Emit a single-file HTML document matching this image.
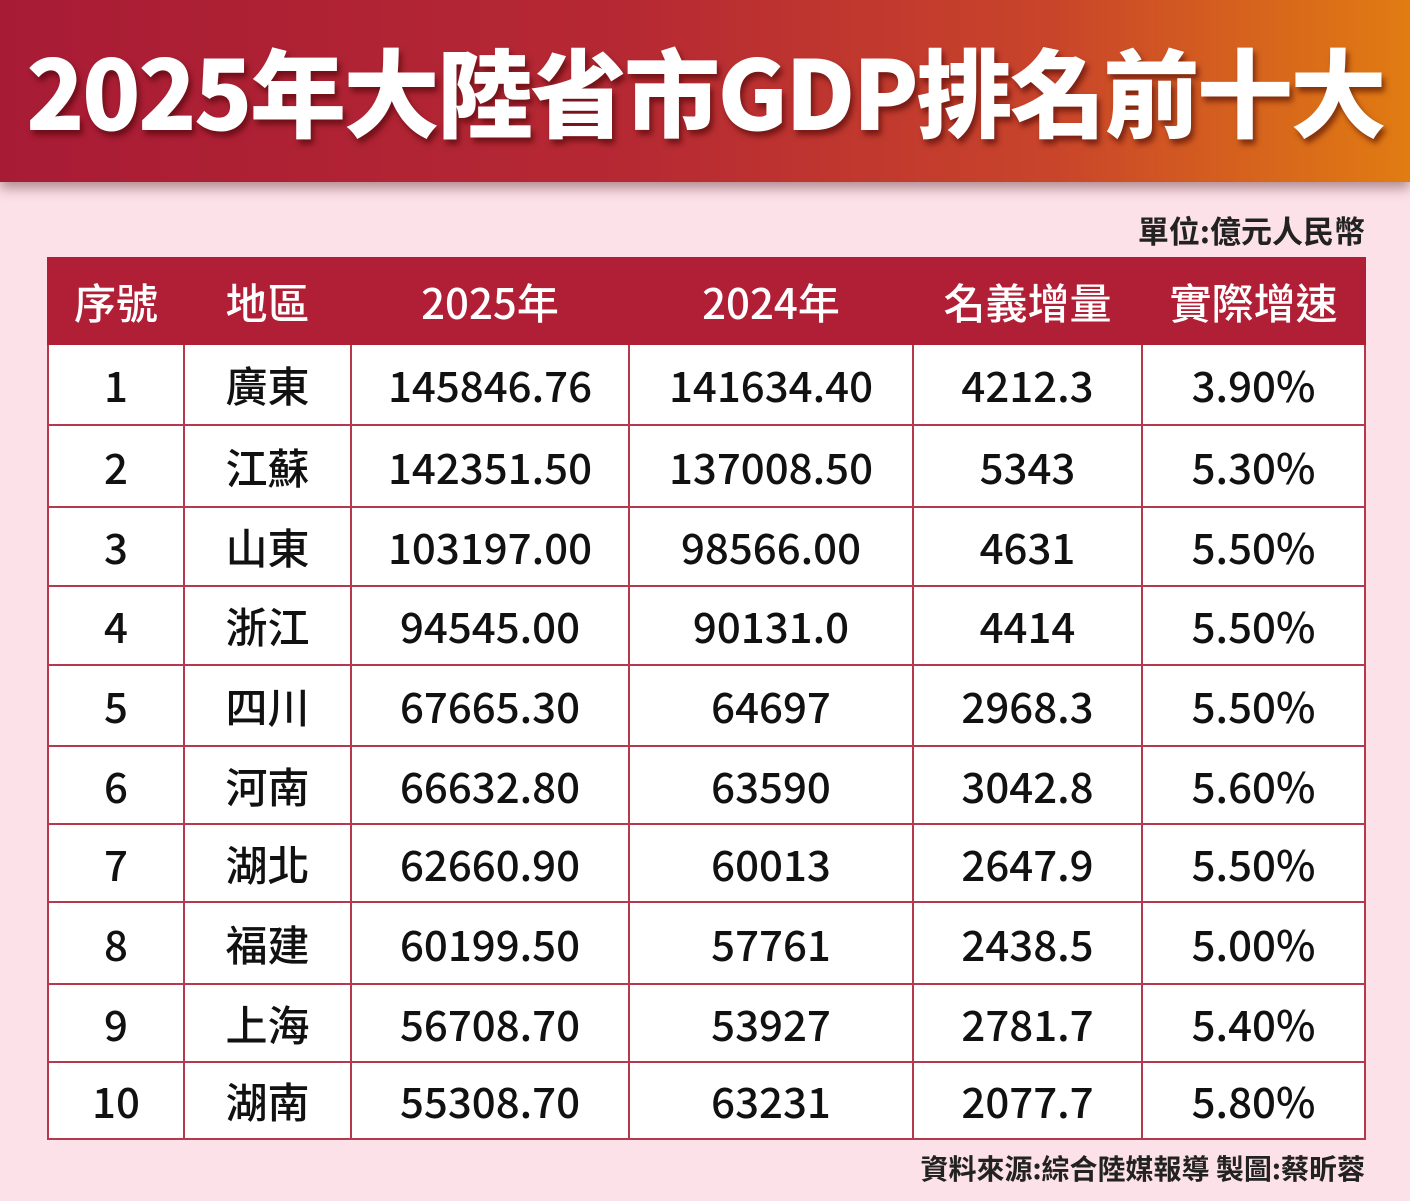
<!DOCTYPE html>
<html><head><meta charset="utf-8"><style>
*{margin:0;padding:0;box-sizing:border-box}
body{width:1410px;height:1201px;background:#fde1e9;position:relative;overflow:hidden;font-family:"Noto Sans CJK TC","Liberation Sans",sans-serif}
.banner{position:absolute;left:0;top:0;width:1410px;height:182px;background:linear-gradient(90deg,#a81b35 0%,#b62933 45%,#c9452a 75%,#e17c12 100%);box-shadow:0 6px 12px rgba(80,30,30,.45)}
.title{position:absolute;left:0;top:24px;width:1410px;text-align:center;color:#fff;font-weight:900;font-size:96px;line-height:130px;letter-spacing:-2.5px;text-shadow:3px 5px 6px rgba(60,0,0,.55);white-space:nowrap}
.unit{position:absolute;right:45px;top:208px;font-size:31px;font-weight:700;color:#222;line-height:44px}
.src{position:absolute;right:45px;top:1148px;font-size:28px;font-weight:700;color:#222;line-height:40px}
table{position:absolute;left:47px;top:257px;border-collapse:collapse;table-layout:fixed;width:1317px}
th{background:#b01f35;color:#fff;font-size:42px;font-weight:500;height:86px;border:2px solid #b01f35}
td{background:#fff;border:2px solid #b4394c;text-align:center;font-size:42px;font-weight:500;color:#111}
</style></head><body>
<div class="banner"></div>
<div class="title">2025年大陸省市GDP排名前十大</div>
<div class="unit">單位:億元人民幣</div>
<table>
<colgroup><col style="width:136px"><col style="width:167px"><col style="width:278px"><col style="width:284px"><col style="width:229px"><col style="width:223px"></colgroup>
<tr><th>序號</th><th>地區</th><th>2025年</th><th>2024年</th><th>名義增量</th><th>實際增速</th></tr>
<tr style="height:81px"><td>1</td><td>廣東</td><td>145846.76</td><td>141634.40</td><td>4212.3</td><td>3.90%</td></tr>
<tr style="height:82px"><td>2</td><td>江蘇</td><td>142351.50</td><td>137008.50</td><td>5343</td><td>5.30%</td></tr>
<tr style="height:79px"><td>3</td><td>山東</td><td>103197.00</td><td>98566.00</td><td>4631</td><td>5.50%</td></tr>
<tr style="height:79px"><td>4</td><td>浙江</td><td>94545.00</td><td>90131.0</td><td>4414</td><td>5.50%</td></tr>
<tr style="height:81px"><td>5</td><td>四川</td><td>67665.30</td><td>64697</td><td>2968.3</td><td>5.50%</td></tr>
<tr style="height:78px"><td>6</td><td>河南</td><td>66632.80</td><td>63590</td><td>3042.8</td><td>5.60%</td></tr>
<tr style="height:78px"><td>7</td><td>湖北</td><td>62660.90</td><td>60013</td><td>2647.9</td><td>5.50%</td></tr>
<tr style="height:82px"><td>8</td><td>福建</td><td>60199.50</td><td>57761</td><td>2438.5</td><td>5.00%</td></tr>
<tr style="height:78px"><td>9</td><td>上海</td><td>56708.70</td><td>53927</td><td>2781.7</td><td>5.40%</td></tr>
<tr style="height:77px"><td>10</td><td>湖南</td><td>55308.70</td><td>63231</td><td>2077.7</td><td>5.80%</td></tr>
</table>
<div class="src">資料來源:綜合陸媒報導 製圖:蔡昕蓉</div>
</body></html>
